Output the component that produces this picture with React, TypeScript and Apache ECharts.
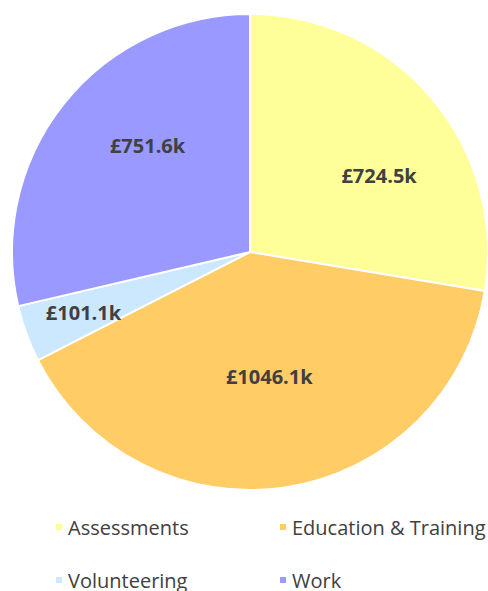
import React, { useEffect, useRef } from "react";
import * as echarts from "echarts";

const categories = ["Assessments", "Education & Training", "Volunteering", "Work"];
const values = [724.5, 1046.1, 101.1, 751.6];
const colors = ["#FFFF99", "#FFCC66", "#CCE8FF", "#9999FF"];
// label placement: fraction of radius and angular shift (degrees) from slice middle
const labelFrac = [0.63, 0.53, 0.745, 0.62];
const labelShift = [9.7, 0, 0, 7.6];

const CX = 250;
const CY = 252;
const R = 238;

// legend slots: left, top per category
const legendLeft = [49, 273, 49, 273];
const legendTop = [512, 512, 565, 565];

export default function App() {
  const ref = useRef<HTMLDivElement>(null);
  useEffect(() => {
    if (!ref.current) return;
    const chart = echarts.init(ref.current, null, { renderer: "svg" });
    const total = values.reduce((a, b) => a + b, 0);
    const mids: number[] = [];
    let acc = 0;
    values.forEach((v) => {
      mids.push(((acc + v / 2) / total) * 360);
      acc += v;
    });
    const legendText = { color: "#404040", fontSize: 20, fontFamily: "Open Sans" };
    chart.setOption({
      animation: false,
      legend: categories.map((c, i) => ({
        data: [c],
        left: legendLeft[i],
        top: legendTop[i],
        itemWidth: 8,
        itemHeight: 8,
        itemGap: 10,
        icon: "rect",
        textStyle: legendText,
        selectedMode: false,
      })),
      series: [
        {
          type: "pie",
          center: [CX, CY],
          radius: [0, R],
          startAngle: 90,
          clockwise: true,
          itemStyle: { borderColor: "#ffffff", borderWidth: 2 },
          label: {
            show: true,
            position: "inside",
            formatter: (p: any) => "£" + p.value.toFixed(1) + "k",
            color: "#404040",
            fontWeight: "bold",
            fontSize: 20,
            fontFamily: "Open Sans",
          },
          labelLine: { show: false },
          emphasis: { disabled: true },
          labelLayout: (params: any) => {
            const i = params.dataIndex;
            const a = ((mids[i] + labelShift[i]) * Math.PI) / 180;
            return {
              x: CX + labelFrac[i] * R * Math.sin(a),
              y: CY - labelFrac[i] * R * Math.cos(a),
              align: "center",
              verticalAlign: "middle",
            };
          },
          data: categories.map((c, i) => ({
            name: c,
            value: values[i],
            itemStyle: { color: colors[i] },
          })),
        },
      ],
    });
    return () => chart.dispose();
  }, []);
  return (
    <div
      ref={ref}
      style={{ width: 488, height: 591, position: "absolute", left: 0, top: 0 }}
    />
  );
}
